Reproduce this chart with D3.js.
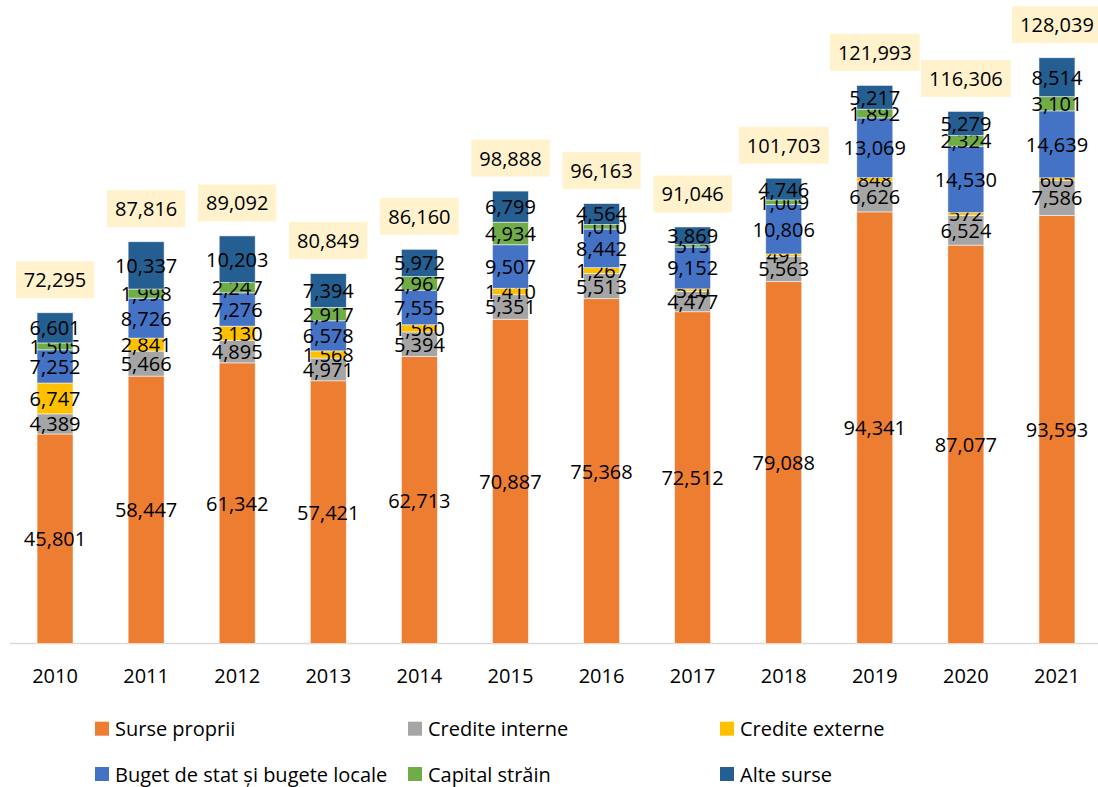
<!DOCTYPE html>
<html>
<head>
<meta charset="utf-8">
<script src="https://cdn.jsdelivr.net/npm/d3@7"></script>
<style>
  body { margin: 0; background: #fff; }
  #chart { width: 1098px; height: 787px; }
  text { font-family: "Open Sans", sans-serif; fill: #000; }
</style>
</head>
<body>
<div id="chart"></div>
<script>

let years = ["2010", "2011", "2012", "2013", "2014", "2015", "2016", "2017", "2018", "2019", "2020", "2021"];

let series_names = ["Surse proprii", "Credite interne", "Credite externe",
                    "Buget de stat și bugete locale", "Capital străin", "Alte surse"];

let surse_proprii   = [45801, 58447, 61342, 57421, 62713, 70887, 75368, 72512, 79088, 94341, 87077, 93593];
let credite_interne = [4389, 5466, 4895, 4971, 5394, 5351, 5513, 4477, 5563, 6626, 6524, 7586];
let credite_externe = [6747, 2841, 3130, 1568, 1560, 1410, 1267, 520, 491, 848, 572, 605];
let buget_stat      = [7252, 8726, 7276, 6578, 7555, 9507, 8442, 9152, 10806, 13069, 14530, 14639];
let capital_strain  = [1505, 1998, 2247, 2917, 2967, 4934, 1010, 515, 1009, 1892, 2324, 3101];
let alte_surse      = [6601, 10337, 10203, 7394, 5972, 6799, 4564, 3869, 4746, 5217, 5279, 8514];

let totals = [72295, 87816, 89092, 80849, 86160, 98888, 96163, 91046, 101703, 121993, 116306, 128039];

let series_colors = ["#ED7D31", "#A5A5A5", "#FFC000", "#4472C4", "#70AD47", "#255E91"];

function draw_chart() {

    let chart_width = 1098;
    let chart_height = 787;

    let svg = d3.select("#chart")
                .append("svg")
                .attr("width", chart_width)
                .attr("height", chart_height);

    let all_series = [surse_proprii, credite_interne, credite_externe, buget_stat, capital_strain, alte_surse];

    let table = years.map(function(yr, i) {
        let row = { year: yr };
        for (let s = 0; s < series_names.length; s++) {
            row[series_names[s]] = all_series[s][i];
        }
        return row;
    });

    let stacked = d3.stack().keys(series_names)(table);

    let xScale = d3.scaleBand()
                   .domain(years)
                   .range([9.5, 1102.5])
                   .paddingInner(0.605)
                   .paddingOuter(0.3025);

    let yScale = d3.scaleLinear()
                   .domain([0, 140000])
                   .range([643.5, 3]);

    let baseline = yScale(0);

    // axis line
    svg.append("line")
        .attr("x1", 10)
        .attr("x2", chart_width)
        .attr("y1", baseline)
        .attr("y2", baseline)
        .attr("stroke", "#d9d9d9")
        .attr("stroke-width", 1.5);

    let groups = svg.selectAll(".series")
                    .data(stacked)
                    .enter()
                    .append("g")
                    .attr("class", "series")
                    .style("fill", function(d, i) { return series_colors[i]; });

    groups.selectAll("rect")
        .data(function(d) { return d; })
        .enter()
        .append("rect")
        .attr("x", function(d) { return xScale(d.data.year); })
        .attr("y", function(d) { return yScale(d[1]); })
        .attr("width", xScale.bandwidth())
        .attr("height", function(d) { return yScale(d[0]) - yScale(d[1]); })
        .attr("stroke", "#fff")
        .attr("stroke-opacity", 0.7)
        .attr("stroke-width", 0.75);

    groups.selectAll(".seg_label")
        .data(function(d) { return d; })
        .enter()
        .append("text")
        .attr("class", "seg_label")
        .attr("x", function(d) { return xScale(d.data.year) + xScale.bandwidth() / 2; })
        .attr("y", function(d) { return (yScale(d[0]) + yScale(d[1])) / 2; })
        .attr("text-anchor", "middle")
        .attr("dominant-baseline", "central")
        .style("font-size", "20px")
        .style("fill", "#000")
        .text(function(d) { return d3.format(",")(d[1] - d[0]); });

    // total boxes
    let fmt = d3.format(",");
    let total_g = svg.selectAll(".total")
                     .data(totals)
                     .enter()
                     .append("g")
                     .attr("class", "total")
                     .attr("transform", function(d, i) {
                         let cx = xScale(years[i]) + xScale.bandwidth() / 2;
                         return "translate(" + cx + "," + (yScale(d) - 33) + ")";
                     });

    total_g.append("text")
        .attr("text-anchor", "middle")
        .attr("dominant-baseline", "central")
        .style("font-size", "20px")
        .text(function(d) { return fmt(d); });

    total_g.each(function() {
        let g = d3.select(this);
        let bb = g.select("text").node().getBBox();
        g.insert("rect", "text")
            .attr("x", bb.x - 8)
            .attr("y", -18.5)
            .attr("width", bb.width + 16)
            .attr("height", 37)
            .style("fill", "#FFF2CC");
    });

    // x axis labels
    svg.selectAll(".year_label")
        .data(years)
        .enter()
        .append("text")
        .attr("class", "year_label")
        .attr("x", function(d) { return xScale(d) + xScale.bandwidth() / 2; })
        .attr("y", 675)
        .attr("text-anchor", "middle")
        .attr("dominant-baseline", "central")
        .style("font-size", "20px")
        .text(function(d) { return d; });

    // legend
    let legend_cols = [95, 408, 720];
    let legend_rows = [728.7, 774];

    let legend = svg.selectAll(".legend_item")
                    .data(series_names)
                    .enter()
                    .append("g")
                    .attr("class", "legend_item")
                    .attr("transform", function(d, i) {
                        return "translate(" + legend_cols[i % 3] + "," + legend_rows[Math.floor(i / 3)] + ")";
                    });

    legend.append("rect")
        .attr("x", 0)
        .attr("y", -7)
        .attr("width", 14)
        .attr("height", 14)
        .style("fill", function(d, i) { return series_colors[i]; });

    legend.append("text")
        .attr("x", 20)
        .attr("y", 0)
        .attr("dominant-baseline", "central")
        .style("font-size", "20px")
        .text(function(d) { return d; });
}

draw_chart();

</script>
</body>
</html>
